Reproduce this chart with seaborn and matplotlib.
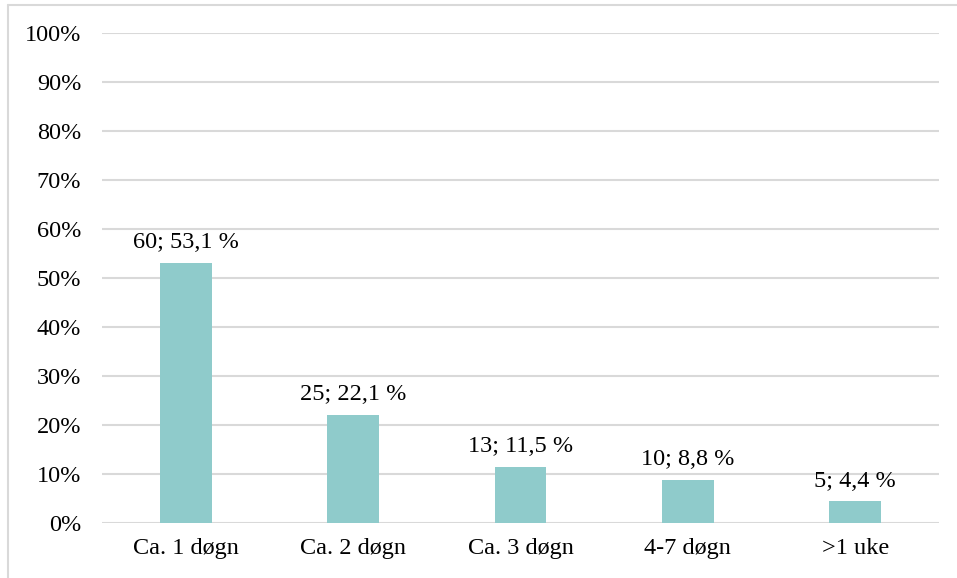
import matplotlib
matplotlib.use("Agg")
import matplotlib.pyplot as plt
import seaborn as sns
import pandas as pd

categories = ["Ca. 1 døgn", "Ca. 2 døgn", "Ca. 3 døgn", "4-7 døgn", ">1 uke"]
counts = [60, 25, 13, 10, 5]
percents = [53.1, 22.1, 11.5, 8.8, 4.4]
yticks = [0, 10, 20, 30, 40, 50, 60, 70, 80, 90, 100]

df = pd.DataFrame({"kategori": categories, "prosent": percents, "antall": counts})

sns.set_theme(style="white")
plt.rcParams["font.family"] = ["Liberation Serif", "DejaVu Serif"]

FS = 17.5

fig = plt.figure(figsize=(9.57, 5.78), dpi=100)
ax = fig.add_axes([102 / 957, 1 - 523 / 578, (939 - 102) / 957, (523 - 33) / 578])

sns.barplot(data=df, x="kategori", y="prosent", color="#8FCBCB", saturation=1,
            width=0.31, linewidth=0, ax=ax, zorder=3)

ax.set_ylim(0, 100)
ax.set_xlim(-0.5, len(categories) - 0.5)
ax.set_yticks(yticks)
ax.set_yticklabels([f"{t}%" for t in yticks])
ax.yaxis.grid(True, color="#D9D9D9", linewidth=1.5, zorder=0)
ax.set_axisbelow(True)
ax.set_xlabel("")
ax.set_ylabel("")
for s in ax.spines.values():
    s.set_visible(False)
ax.tick_params(axis="both", length=0, labelsize=FS, colors="black")
ax.tick_params(axis="y", pad=15)
ax.tick_params(axis="x", pad=11)

for i, (c, p) in enumerate(zip(counts, percents)):
    ax.annotate(f"{c}; {str(p).replace('.', ',')} %", xy=(i, p), xytext=(0, 7),
                textcoords="offset points", ha="center", va="bottom",
                fontsize=FS, color="black")

# outer frame (top and left edges)
fig.add_artist(plt.Line2D([8 / 957, 1.0], [1 - 5 / 578, 1 - 5 / 578],
                          transform=fig.transFigure, color="#D9D9D9", linewidth=1.5))
fig.add_artist(plt.Line2D([8 / 957, 8 / 957], [0, 1 - 5 / 578],
                          transform=fig.transFigure, color="#D9D9D9", linewidth=1.5))

fig.savefig("out.png", dpi=100)
